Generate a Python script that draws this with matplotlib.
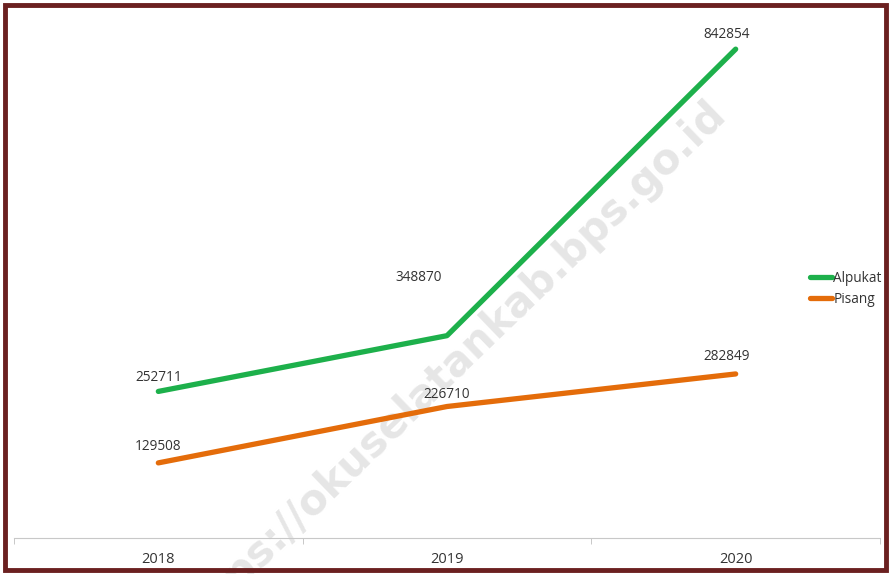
import matplotlib
matplotlib.use("Agg")
import matplotlib.pyplot as plt
from matplotlib.patches import Rectangle
from matplotlib.ticker import FixedLocator

years = ["2018", "2019", "2020"]
alpukat = [252711, 348870, 842854]
pisang = [129508, 226710, 282849]

GREEN = "#1db04b"
ORANGE = "#e46c0a"
plt.rcParams.update({"font.family": ["Open Sans", "DejaVu Sans"], "font.size": 9.8,
                     "text.color": "#333333"})

fig = plt.figure(figsize=(8.91, 5.74), dpi=100)
ax = fig.add_axes([14 / 891, 36 / 574, 866 / 891, 522 / 574])
ax.patch.set_alpha(0)
x = range(len(years))
ax.plot(x, alpukat, color=GREEN, lw=3.8, solid_capstyle="round", label="Alpukat", zorder=3)
ax.plot(x, pisang, color=ORANGE, lw=3.8, solid_capstyle="round", label="Pisang", zorder=3)

# label offsets (pixels) – copied from the picture's manual placement
off_a = [(0, 14), (-28, 58), (-9, 15)]
off_p = [(0, 16), (0, 12), (-9, 17)]
for i, v in enumerate(alpukat):
    ax.annotate(str(v), (i, v), xytext=off_a[i], textcoords="offset pixels",
                ha="center", va="center", color="#333333", zorder=4)
for i, v in enumerate(pisang):
    ax.annotate(str(v), (i, v), xytext=off_p[i], textcoords="offset pixels",
                ha="center", va="center", color="#333333", zorder=4)

ax.set_xlim(-0.5, 2.5)
ax.set_ylim(0, 900000)
ax.set_xticks(list(x))
ax.set_xticklabels(years, fontsize=10.5)
ax.tick_params(axis="x", which="major", length=0, pad=10, labelcolor="#333333")
ax.xaxis.set_minor_locator(FixedLocator([-0.5, 0.5, 1.5, 2.5]))
ax.tick_params(axis="x", which="minor", length=4, color="#bfbfbf")
ax.set_yticks([])
for s in ["top", "right", "left"]:
    ax.spines[s].set_visible(False)
ax.spines["bottom"].set_color("#c8c8c8")

leg = ax.legend(loc="center left", bbox_to_anchor=(798 / 891, 1 - 289 / 574),
                bbox_transform=fig.transFigure, frameon=False, handlelength=1.6,
                handletextpad=0.1, labelspacing=0.45, fontsize=9.8)

# watermark, behind the lines
ax.text(0.505, 0.36, "https://okuselatankab.bps.go.id", rotation=44, fontsize=30,
        fontweight="bold", color="#e6e6e6", ha="center", va="center", zorder=0,
        family="DejaVu Sans", transform=fig.transFigure)

fig.patches.append(Rectangle((5 / 891, 4 / 574), 881 / 891, 565 / 574, transform=fig.transFigure,
                             fill=False, lw=3.5, ec="#6b2020"))
fig.savefig("out.png", dpi=100)
